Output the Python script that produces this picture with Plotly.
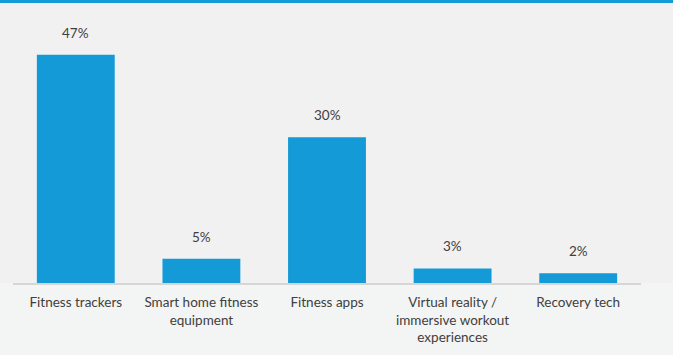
import plotly.graph_objects as go

categories = ["Fitness trackers", "Smart home fitness<br>equipment", "Fitness apps",
              "Virtual reality /<br>immersive workout<br>experiences", "Recovery tech"]
values = [47, 5, 30, 3, 2]
value_labels = ["47%", "5%", "30%", "3%", "2%"]

BLUE = "#149AD7"
TEXT = "#404040"
FONT = "Lato, Noto Sans, sans-serif"

fig = go.Figure()
fig.add_trace(go.Bar(x=categories, y=values, marker=dict(color=BLUE, line=dict(width=0)),
                     width=0.62, hoverinfo="skip"))

for c, v, t in zip(categories, values, value_labels):
    fig.add_annotation(x=c, y=v, text=t, showarrow=False, yanchor="bottom", yshift=12,
                       font=dict(family=FONT, size=13.5, color=TEXT))

# background band above baseline and top stripe
fig.add_shape(type="rect", xref="paper", yref="paper", x0=-0.03, x1=1.06, y0=0, y1=1.03,
              fillcolor="#f1f1f1", line=dict(width=0), layer="below")
fig.add_shape(type="rect", xref="paper", yref="paper", x0=-0.03, x1=1.06, y0=1.026, y1=1.04,
              fillcolor=BLUE, line=dict(width=0), layer="above")

fig.update_layout(
    width=673, height=355,
    margin=dict(l=13, r=32, t=10, b=70),
    paper_bgcolor="#f3f4f4", plot_bgcolor="#f1f1f1",
    showlegend=False, bargap=0.38,
    font=dict(family=FONT, size=12, color=TEXT),
)
fig.update_xaxes(showline=True, linecolor="#d6d6d6", linewidth=2, ticks="outside",
                 ticklen=6, tickcolor="rgba(0,0,0,0)", tickfont=dict(size=13.5, color=TEXT),
                 tickangle=0, fixedrange=True)
fig.update_yaxes(range=[0, 56.2], visible=False, showgrid=False, fixedrange=True)

fig.write_html("out.html", config={"displayModeBar": False},
               post_script="document.body.style.margin='0';document.body.style.overflow='hidden';")
